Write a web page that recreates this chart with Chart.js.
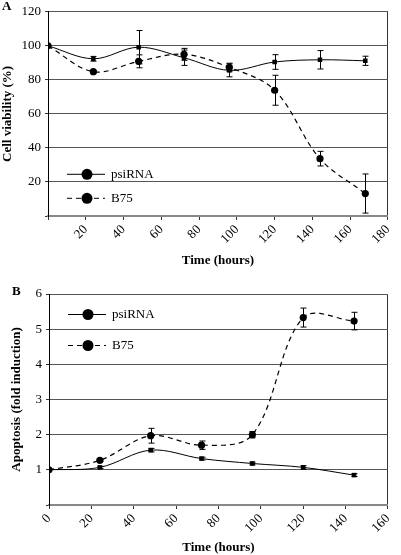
<!DOCTYPE html>
<html>
<head>
<meta charset="utf-8">
<script src="https://cdn.jsdelivr.net/npm/chart.js@4/dist/chart.umd.min.js"></script>
<style>
  html, body { margin: 0; padding: 0; background: #fff; }
  .box { position: absolute; left: 0; width: 401px; }
  #boxA { top: 0; height: 272px; }
  #boxB { top: 275px; height: 280px; }
</style>
</head>
<body>
<div class="box" id="boxA"><canvas id="chartA"></canvas></div>
<div class="box" id="boxB"><canvas id="chartB"></canvas></div>
<script>
// panel A - cell viability
const hoursA = [0, 24, 48, 72, 96, 120, 144, 168];
const viabPsi = [100, 92.4, 99.2, 93, 85.6, 90.5, 91.8, 91.2];
const viabPsiErr = [0, 1.4, 9.8, 4.5, 3.8, 4.3, 5.4, 2.7];
const viabB75 = [100, 84.8, 90.9, 95, 87.3, 73.9, 33.7, 13.2];
const viabB75Err = [0, 0.8, 3.8, 3.5, 2.5, 8.8, 4.3, 11.5];

// panel B - apoptosis
const hoursB = [0, 24, 48, 72, 96, 120, 144];
const apoPsi = [1.0, 1.07, 1.56, 1.32, 1.18, 1.07, 0.85];
const apoPsiErr = [0, 0.03, 0.05, 0.04, 0.04, 0.05, 0.04];
const apoB75 = [1.0, 1.27, 1.97, 1.7, 2.0, 5.33, 5.23];
const apoB75Err = [0, 0.03, 0.21, 0.12, 0.09, 0.27, 0.25];

const seriesNames = ['psiRNA', 'B75'];

const serif = 'Liberation Serif, Times New Roman, serif';

function pts(xs, ys) {
  return xs.map((x, i) => ({ x: x, y: ys[i] }));
}

// vertical error bars with caps, placed through the chart scales
const errorBars = {
  id: 'errorBars',
  afterDatasetsDraw(chart) {
    const ctx = chart.ctx;
    const xs = chart.scales.x, ys = chart.scales.y;
    ctx.save();
    ctx.strokeStyle = '#000';
    ctx.lineWidth = 1;
    chart.data.datasets.forEach(ds => {
      (ds.errors || []).forEach((e, i) => {
        if (!e) return;
        const p = ds.data[i];
        const px = Math.round(xs.getPixelForValue(p.x)) + 0.5;
        const y1 = ys.getPixelForValue(p.y + e);
        const y2 = ys.getPixelForValue(p.y - e);
        ctx.beginPath();
        ctx.moveTo(px, y1); ctx.lineTo(px, y2);
        ctx.moveTo(px - 3, y1); ctx.lineTo(px + 3, y1);
        ctx.moveTo(px - 3, y2); ctx.lineTo(px + 3, y2);
        ctx.stroke();
      });
    });
    ctx.restore();
  }
};

// legend drawn inside the plot: line segment + big dot + label
const innerLegend = {
  id: 'innerLegend',
  afterDraw(chart, args, opts) {
    const ctx = chart.ctx;
    const a = chart.chartArea;
    ctx.save();
    chart.data.datasets.forEach((ds, i) => {
      const y = a.top + opts.y + i * opts.gap;
      const x0 = a.left + opts.x;
      ctx.strokeStyle = '#000';
      ctx.lineWidth = 1;
      ctx.setLineDash(ds.borderDash || []);
      ctx.beginPath();
      ctx.moveTo(x0, y + 0.5); ctx.lineTo(x0 + 38, y + 0.5);
      ctx.stroke();
      ctx.setLineDash([]);
      ctx.fillStyle = '#000';
      ctx.beginPath();
      ctx.arc(x0 + 20, y + 0.5, 5.5, 0, Math.PI * 2);
      ctx.fill();
      ctx.font = '13px ' + serif;
      ctx.textBaseline = 'middle';
      ctx.fillText(ds.label, x0 + 44, y + 1);
    });
    // panel letter
    ctx.font = 'bold 13px ' + serif;
    ctx.textBaseline = 'middle';
    ctx.fillText(opts.letter, opts.lx, opts.ly);
    ctx.restore();
  }
};

function makeChart(id, cfg) {
  const datasets = [
    {
      label: seriesNames[0],
      data: pts(cfg.hours, cfg.psi),
      errors: cfg.psiErr,
      borderColor: '#000',
      backgroundColor: '#000',
      borderWidth: 1,
      pointStyle: 'rect',
      pointRadius: 3.2,
      pointBorderWidth: 0,
      tension: 0.35
    },
    {
      label: seriesNames[1],
      data: pts(cfg.hours, cfg.b75),
      errors: cfg.b75Err,
      borderColor: '#000',
      backgroundColor: '#000',
      borderWidth: 1.2,
      borderDash: [5, 4],
      pointStyle: 'circle',
      pointRadius: 3.6,
      pointBorderWidth: 0,
      tension: 0.35
    }
  ];
  return new Chart(document.getElementById(id), {
    type: 'line',
    data: { datasets: datasets },
    options: {
      responsive: true,
      maintainAspectRatio: false,
      animation: false,
      layout: { padding: { top: cfg.padTop, right: 2, left: 0, bottom: 0 } },
      plugins: {
        legend: { display: false },
        tooltip: { enabled: false },
        innerLegend: cfg.legend
      },
      scales: {
        x: {
          type: 'linear',
          min: 0,
          max: cfg.xMax,
          ticks: {
            stepSize: 20,
            minRotation: 45,
            maxRotation: 45,
            padding: 2,
            color: '#000',
            font: { family: serif, size: 13 },
            callback: v => (v === 0 && !cfg.showZeroX) ? '' : v
          },
          grid: {
            color: c => c.tick && c.tick.value === cfg.xMax ? '#333' : 'transparent',
            tickColor: '#333',
            tickLength: 4,
            drawOnChartArea: true
          },
          border: { color: '#888', width: 2 },
          title: {
            display: true,
            text: 'Time (hours)',
            color: '#000',
            font: { family: serif, size: 13, weight: 'bold' },
            padding: { top: 0, bottom: cfg.xTitlePad }
          },
          afterFit: s => { s.height = cfg.xAxisH; }
        },
        y: {
          min: 0,
          max: cfg.yMax,
          ticks: {
            stepSize: cfg.yStep,
            padding: 4,
            color: '#000',
            font: { family: serif, size: 13 },
            callback: v => v === 0 ? '' : v
          },
          grid: { color: '#555', tickColor: '#333', tickLength: 3 },
          border: { color: '#000', width: 1 },
          title: {
            display: true,
            text: cfg.yTitle,
            color: '#000',
            font: { family: serif, size: 13, weight: 'bold' },
            padding: { top: cfg.yTitlePad, bottom: 0 }
          },
          afterFit: s => { s.width = cfg.yAxisW; }
        }
      }
    },
    plugins: [errorBars, innerLegend]
  });
}

makeChart('chartA', {
  hours: hoursA, psi: viabPsi, psiErr: viabPsiErr, b75: viabB75, b75Err: viabB75Err,
  xMax: 180, yMax: 120, yStep: 20, showZeroX: false,
  padTop: 5, xAxisH: 56, yAxisW: 48, yTitlePad: 0, xTitlePad: 4,
  yTitle: 'Cell viability (%)',
  legend: { x: 19, y: 162, gap: 24, letter: 'A', lx: 2, ly: 7 }
});

makeChart('chartB', {
  hours: hoursB, psi: apoPsi, psiErr: apoPsiErr, b75: apoB75, b75Err: apoB75Err,
  xMax: 160, yMax: 6, yStep: 1, showZeroX: true,
  padTop: 19, xAxisH: 50, yAxisW: 49, yTitlePad: 9, xTitlePad: 0,
  yTitle: 'Apoptosis (fold induction)',
  legend: { x: 19, y: 20, gap: 31, letter: 'B', lx: 12, ly: 17 }
});
</script>
</body>
</html>
